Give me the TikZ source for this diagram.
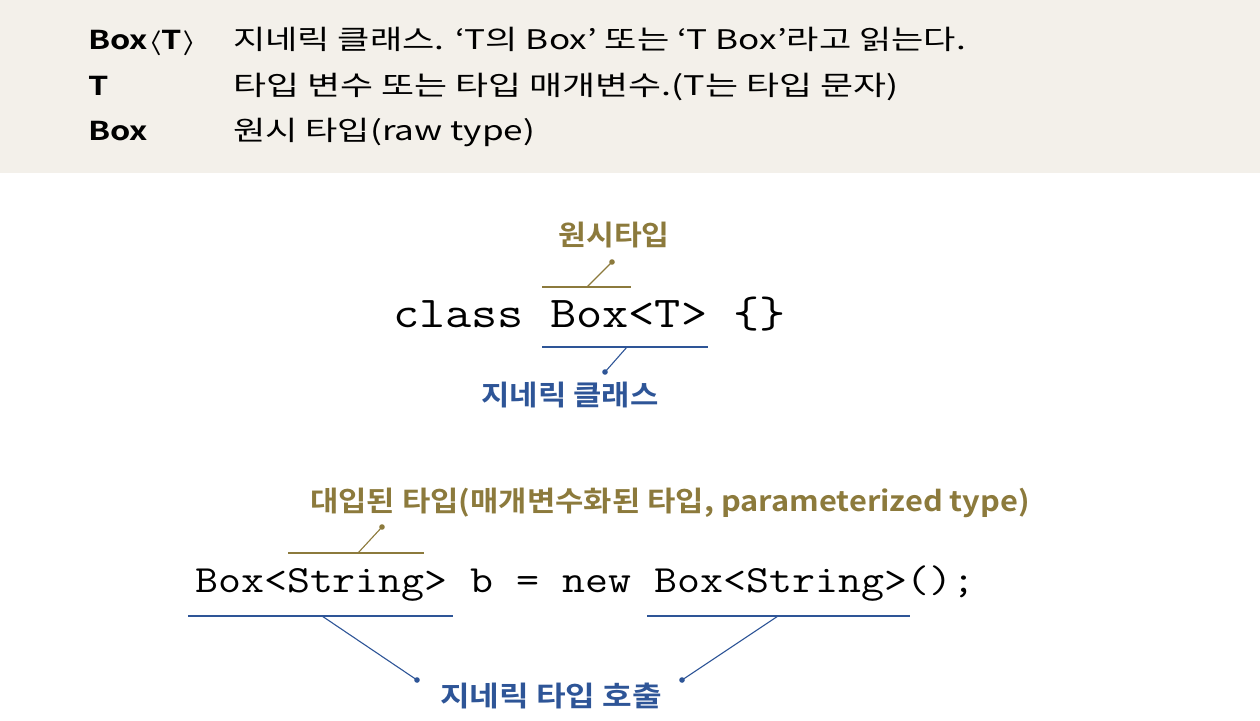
\documentclass[tikz,border=0pt]{standalone}
\usepackage{fontspec}
\setmainfont{Noto Sans CJK KR}[BoldFont={Noto Sans CJK KR Bold}]
\usepackage{graphicx}
\usetikzlibrary{calc}

\definecolor{headbg}{HTML}{F3F0EA}
\definecolor{rawgold}{HTML}{8C7A3C}
\definecolor{genblue}{HTML}{2E5597}

\begin{document}
\begin{tikzpicture}[x=1pt,y=-1pt,
    head/.style={anchor=base west, inner sep=0pt, font=\fontsize{27}{30}\selectfont},
    headkey/.style={head, font=\fontsize{26}{30}\selectfont\bfseries},
    code/.style={anchor=base west, inner sep=0pt},
    tag/.style={anchor=base, inner sep=0pt, font=\fontsize{28}{30}\selectfont\bfseries},
    under/.style={line width=2pt},
    leader/.style={line width=1.1pt}]
    \useasboundingbox (0,0) rectangle (1260,720);

    % --- Encadré d'en-tête ---
    \fill[headbg] (0,0) rectangle (1260,173);
    \node[headkey] (k1) at (88,49) {\scalebox{1.25}[1]{Box{\boldmath$\langle$}T{\boldmath$\rangle$}}};
    \node[headkey] (k2) at (88,95) {\scalebox{1.25}[1]{T}};
    \node[headkey] (k3) at (88,140) {\scalebox{1.25}[1]{Box}};
    \node[head] (d1) at (233,49) {\scalebox{1.3}[1]{지네릭 클래스. `T의 Box' 또는 `T Box'라고 읽는다.}};
    \node[head] (d2) at (233,95) {\scalebox{1.33}[1]{타입 변수 또는 타입 매개변수.(T는 타입 문자)}};
    \node[head] (d3) at (233,140) {\scalebox{1.3}[1]{원시 타입(raw type)}};

    % --- Déclaration de la classe ---
    \node[code, font=\fontsize{44}{48}\selectfont\ttfamily] (cls) at (393,327)
        {\scalebox{1.155}[1]{class Box<T> \{\}}};

    % Box : type brut
    \coordinate (rawL) at (542,287);
    \coordinate (rawR) at (631,287);
    \coordinate (rawK) at (587,287);
    \coordinate (rawDot) at (612,262);
    \draw[rawgold, under] (rawL) -- (rawR);
    \draw[rawgold, leader] (rawK) -- (rawDot);
    \node[tag, rawgold] (rawTag) at (614,245) {\scalebox{1.08}[1]{원시타입}};

    % Box<T> : classe générique
    \coordinate (genL) at (542,347);
    \coordinate (genR) at (708,347);
    \coordinate (genK) at (627,347);
    \coordinate (genDot) at (605,372);
    \draw[genblue, under] (genL) -- (genR);
    \draw[genblue, leader] (genK) -- (genDot);
    \node[tag, genblue] (genTag) at (570,405) {\scalebox{1.1}[1]{지네릭 클래스}};

    % --- Instanciation ---
    \node[code, font=\fontsize{38.5}{42}\selectfont\ttfamily] (inst) at (195,592)
        {\scalebox{1.158}[1]{Box<String> b = new Box<String>();}};

    % String : type substitué
    \coordinate (parL) at (288,553);
    \coordinate (parR) at (424,553);
    \coordinate (parK) at (358,553);
    \coordinate (parDot) at (382,527);
    \draw[rawgold, under] (parL) -- (parR);
    \draw[rawgold, leader] (parK) -- (parDot);
    \node[tag, rawgold, anchor=base west] (parTag) at (310,511)
        {\scalebox{1.1}[1]{대입된 타입(매개변수화된 타입, parameterized type)}};

    % Box<String> : appel de type générique (deux fois)
    \coordinate (useAL) at (188,616);
    \coordinate (useAR) at (453,616);
    \coordinate (useAK) at (322,616);
    \coordinate (useADot) at (417,680);
    \coordinate (useBL) at (647,616);
    \coordinate (useBR) at (910,616);
    \coordinate (useBK) at (778,616);
    \coordinate (useBDot) at (682,680);
    \draw[genblue, under] (useAL) -- (useAR);
    \draw[genblue, under] (useBL) -- (useBR);
    \draw[genblue, leader] (useAK) -- (useADot);
    \draw[genblue, leader] (useBK) -- (useBDot);
    \node[tag, genblue] (useTag) at (551,706) {\scalebox{1.15}[1]{지네릭 타입 호출}};

    % --- Points d'attache ---
    \foreach \p/\c in {rawDot/rawgold, parDot/rawgold, genDot/genblue, useADot/genblue, useBDot/genblue}
        \fill[\c] (\p) circle (2.8pt);

\end{tikzpicture}
\end{document}
